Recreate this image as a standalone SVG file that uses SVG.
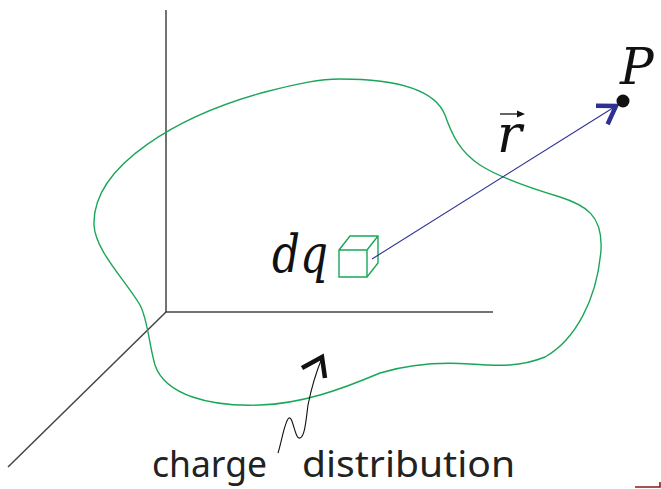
<svg xmlns="http://www.w3.org/2000/svg" width="661" height="489" viewBox="0 0 661 489">
<style>
.axis{stroke:#444;stroke-width:1.5;fill:none}
.green{stroke:#1aa65a;stroke-width:1.4;fill:none}
.math{font-family:"DejaVu Serif",serif;font-style:italic;fill:#111}
.label{font-family:"Noto Sans","Open Sans",sans-serif;fill:#222;font-size:36px}
</style>
<rect width="661" height="489" fill="#fff"/>
<g id="axes">
<line class="axis" x1="166" y1="10" x2="166" y2="312"/>
<line class="axis" x1="165" y1="312" x2="493" y2="312"/>
<line class="axis" x1="166" y1="312" x2="8" y2="467"/>
</g>
<g id="charge-distribution">
<path class="green" d="M340 79 C410 79 437 95 445 115 C452 135 460 152 480 165 C500 178 530 188 560 197 C585 205 603 215 601 250 C597 300 575 340 545 357 C520 367 500 366 470 364 C440 362 410 364 380 373 C340 390 300 404 260 405 C210 407 165 395 155 365 C149 345 148 320 140 305 C125 280 95 250 94 225 C92 165 180 115 265 92 C300 83 320 79 340 79 Z"/>
</g>
<g id="dq">
<path class="green" d="M339 250 H367 V277 H339 Z M339 250 L350 236 H378 V263 L367 277 M367 250 L378 236"/>
<text class="math" x="272" y="272" font-size="52" textLength="56" lengthAdjust="spacingAndGlyphs">dq</text>
</g>
<g id="connectors">
<line x1="372" y1="259" x2="616" y2="106" stroke="#2e3192" stroke-width="1.1"/>
<polyline points="596,105.8 616,106 607.6,124.2" fill="none" stroke="#2e3192" stroke-width="4.5" stroke-linejoin="miter"/>
<path d="M278 453 C282 440 285 420 289 418 C293 416 295 440 300 438 C305 436 306 420 308 405 C312 385 317 370 322 358" fill="none" stroke="#111" stroke-width="1.1"/>
<polyline points="302,368 322,357 325,378" fill="none" stroke="#111" stroke-width="4.5" stroke-linejoin="miter"/>
</g>
<g id="r-label">
<line x1="500" y1="114" x2="519" y2="114" stroke="#111" stroke-width="1.3"/>
<path d="M525 114 L517 110.5 L517 117.5 Z" fill="#111"/>
<text class="math" x="497" y="152" font-size="52">r</text>
</g>
<g id="P">
<circle cx="623" cy="101" r="6.5" fill="#111"/>
<text class="math" x="620" y="84" font-size="50">P</text>
</g>
<g id="caption">
<text class="label" x="152" y="477" textLength="115" lengthAdjust="spacingAndGlyphs">charge</text>
<text class="label" x="302" y="477" textLength="213" lengthAdjust="spacingAndGlyphs">distribution</text>
</g>
<path d="M635 487 H660 V482" fill="none" stroke="#8b1a1a" stroke-width="1.6"/>
</svg>
